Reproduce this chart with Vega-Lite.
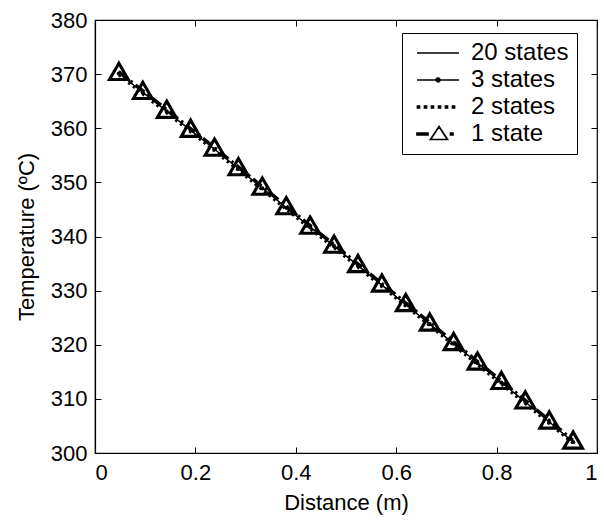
{
  "$schema": "https://vega.github.io/schema/vega-lite/v6.json",
  "width": 502,
  "height": 433,
  "autosize": {"type": "none"},
  "padding": {"left": 95, "top": 20, "right": 7, "bottom": 72},
  "background": "white",
  "config": {
    "view": {"stroke": "black", "strokeWidth": 1.2},
    "font": "Liberation Sans",
    "axis": {
      "grid": false,
      "domainColor": "black",
      "domainWidth": 1.2,
      "tickColor": "black",
      "tickSize": -6,
      "labelColor": "black",
      "labelFont": "Liberation Sans",
      "labelFontSize": 22,
      "titleFont": "Liberation Sans",
      "titleFontSize": 22,
      "titleFontWeight": "normal",
      "titleColor": "black"
    }
  },
  "datasets": {
    "curves": [
      {"series": "20 states", "x": 0.0476, "t": 370.2},
      {"series": "20 states", "x": 0.0952, "t": 366.7},
      {"series": "20 states", "x": 0.1429, "t": 363.2},
      {"series": "20 states", "x": 0.1905, "t": 359.7},
      {"series": "20 states", "x": 0.2381, "t": 356.2},
      {"series": "20 states", "x": 0.2857, "t": 352.6},
      {"series": "20 states", "x": 0.3333, "t": 349.0},
      {"series": "20 states", "x": 0.3810, "t": 345.4},
      {"series": "20 states", "x": 0.4286, "t": 341.8},
      {"series": "20 states", "x": 0.4762, "t": 338.3},
      {"series": "20 states", "x": 0.5238, "t": 334.7},
      {"series": "20 states", "x": 0.5714, "t": 331.1},
      {"series": "20 states", "x": 0.6190, "t": 327.5},
      {"series": "20 states", "x": 0.6667, "t": 323.9},
      {"series": "20 states", "x": 0.7143, "t": 320.3},
      {"series": "20 states", "x": 0.7619, "t": 316.7},
      {"series": "20 states", "x": 0.8095, "t": 313.1},
      {"series": "20 states", "x": 0.8571, "t": 309.5},
      {"series": "20 states", "x": 0.9048, "t": 305.8},
      {"series": "20 states", "x": 0.9524, "t": 302.1},
      {"series": "3 states", "x": 0.0476, "t": 370.1},
      {"series": "3 states", "x": 0.0952, "t": 366.6},
      {"series": "3 states", "x": 0.1429, "t": 363.1},
      {"series": "3 states", "x": 0.1905, "t": 359.6},
      {"series": "3 states", "x": 0.2381, "t": 356.1},
      {"series": "3 states", "x": 0.2857, "t": 352.5},
      {"series": "3 states", "x": 0.3333, "t": 348.9},
      {"series": "3 states", "x": 0.3810, "t": 345.3},
      {"series": "3 states", "x": 0.4286, "t": 341.7},
      {"series": "3 states", "x": 0.4762, "t": 338.2},
      {"series": "3 states", "x": 0.5238, "t": 334.6},
      {"series": "3 states", "x": 0.5714, "t": 331.0},
      {"series": "3 states", "x": 0.6190, "t": 327.4},
      {"series": "3 states", "x": 0.6667, "t": 323.8},
      {"series": "3 states", "x": 0.7143, "t": 320.2},
      {"series": "3 states", "x": 0.7619, "t": 316.6},
      {"series": "3 states", "x": 0.8095, "t": 313.0},
      {"series": "3 states", "x": 0.8571, "t": 309.4},
      {"series": "3 states", "x": 0.9048, "t": 305.7},
      {"series": "3 states", "x": 0.9524, "t": 302.0},
      {"series": "2 states", "x": 0.0476, "t": 369.8},
      {"series": "2 states", "x": 0.0952, "t": 366.3},
      {"series": "2 states", "x": 0.1429, "t": 362.8},
      {"series": "2 states", "x": 0.1905, "t": 359.3},
      {"series": "2 states", "x": 0.2381, "t": 355.8},
      {"series": "2 states", "x": 0.2857, "t": 352.2},
      {"series": "2 states", "x": 0.3333, "t": 348.6},
      {"series": "2 states", "x": 0.3810, "t": 345.0},
      {"series": "2 states", "x": 0.4286, "t": 341.4},
      {"series": "2 states", "x": 0.4762, "t": 337.9},
      {"series": "2 states", "x": 0.5238, "t": 334.3},
      {"series": "2 states", "x": 0.5714, "t": 330.7},
      {"series": "2 states", "x": 0.6190, "t": 327.1},
      {"series": "2 states", "x": 0.6667, "t": 323.5},
      {"series": "2 states", "x": 0.7143, "t": 319.9},
      {"series": "2 states", "x": 0.7619, "t": 316.3},
      {"series": "2 states", "x": 0.8095, "t": 312.7},
      {"series": "2 states", "x": 0.8571, "t": 309.1},
      {"series": "2 states", "x": 0.9048, "t": 305.4},
      {"series": "2 states", "x": 0.9524, "t": 301.8},
      {"series": "1 state", "x": 0.0476, "t": 370.5},
      {"series": "1 state", "x": 0.0952, "t": 367.0},
      {"series": "1 state", "x": 0.1429, "t": 363.5},
      {"series": "1 state", "x": 0.1905, "t": 360.0},
      {"series": "1 state", "x": 0.2381, "t": 356.5},
      {"series": "1 state", "x": 0.2857, "t": 352.9},
      {"series": "1 state", "x": 0.3333, "t": 349.3},
      {"series": "1 state", "x": 0.3810, "t": 345.7},
      {"series": "1 state", "x": 0.4286, "t": 342.1},
      {"series": "1 state", "x": 0.4762, "t": 338.6},
      {"series": "1 state", "x": 0.5238, "t": 335.0},
      {"series": "1 state", "x": 0.5714, "t": 331.4},
      {"series": "1 state", "x": 0.6190, "t": 327.8},
      {"series": "1 state", "x": 0.6667, "t": 324.2},
      {"series": "1 state", "x": 0.7143, "t": 320.6},
      {"series": "1 state", "x": 0.7619, "t": 317.0},
      {"series": "1 state", "x": 0.8095, "t": 313.4},
      {"series": "1 state", "x": 0.8571, "t": 309.8},
      {"series": "1 state", "x": 0.9048, "t": 306.1},
      {"series": "1 state", "x": 0.9524, "t": 302.4}
    ]
  },
  "data": {"name": "curves"},
  "resolve": {"axis": {"x": "independent", "y": "independent"}},
  "layer": [
    {
      "transform": [{"filter": "datum.series === '20 states'"}],
      "mark": {"type": "line", "color": "black", "strokeWidth": 1},
      "encoding": {
        "x": {"field": "x", "type": "quantitative", "scale": {"domain": [0, 1], "nice": false},
              "axis": {"title": "Distance (m)", "values": [0, 0.2, 0.4, 0.6, 0.8, 1], "format": "~g", "labelPadding": 15, "titlePadding": 9}},
        "y": {"field": "t", "type": "quantitative", "scale": {"domain": [300, 380], "nice": false, "zero": false},
              "axis": {"title": "Temperature (ºC)", "values": [300, 310, 320, 330, 340, 350, 360, 370, 380], "labelPadding": 14, "titlePadding": 12}}
      }
    },
    {
      "transform": [{"filter": "datum.series === '3 states'"}],
      "mark": {"type": "line", "color": "black", "strokeWidth": 1.2, "point": {"filled": true, "color": "black", "size": 18}},
      "encoding": {
        "x": {"field": "x", "type": "quantitative", "axis": {"orient": "top", "labels": false, "title": null, "values": [0, 0.2, 0.4, 0.6, 0.8, 1], "domain": false}},
        "y": {"field": "t", "type": "quantitative", "axis": {"orient": "right", "labels": false, "title": null, "values": [300, 310, 320, 330, 340, 350, 360, 370, 380], "domain": false}}
      }
    },
    {
      "transform": [{"filter": "datum.series === '2 states'"}],
      "mark": {"type": "line", "color": "black", "strokeWidth": 2.8, "strokeDash": [2.5, 3.5]},
      "encoding": {
        "x": {"field": "x", "type": "quantitative", "axis": null},
        "y": {"field": "t", "type": "quantitative", "axis": null}
      }
    },
    {
      "transform": [{"filter": "datum.series === '1 state'"}],
      "mark": {"type": "line", "color": "black", "strokeWidth": 2.8, "strokeDash": [11, 4, 2.5, 4]},
      "encoding": {
        "x": {"field": "x", "type": "quantitative", "axis": null},
        "y": {"field": "t", "type": "quantitative", "axis": null}
      }
    },
    {
      "transform": [{"filter": "datum.series === '1 state'"}],
      "mark": {"type": "point", "shape": "triangle-up", "filled": false, "stroke": "black", "strokeWidth": 3.1, "size": 350, "opacity": 1},
      "encoding": {
        "x": {"field": "x", "type": "quantitative", "axis": null},
        "y": {"field": "t", "type": "quantitative", "axis": null}
      }
    },
    {
      "mark": {"type": "point", "opacity": 0, "filled": false, "stroke": "black"},
      "encoding": {
        "x": {"field": "x", "type": "quantitative", "axis": null},
        "y": {"field": "t", "type": "quantitative", "axis": null},
        "shape": {
          "field": "series",
          "type": "nominal",
          "scale": {
            "domain": ["20 states", "3 states", "2 states", "1 state"],
            "range": [
              "M-0.5,0H3.7",
              "M-0.5,0H3.7M1.78,0A0.18,0.18 0 1,1 1.42,0A0.18,0.18 0 1,1 1.78,0ZM1.68,0A0.08,0.08 0 1,1 1.52,0A0.08,0.08 0 1,1 1.68,0Z",
              "M-0.45,-0.08h0.2v0.16h-0.2ZM0.25,-0.08h0.2v0.16h-0.2ZM0.95,-0.08h0.2v0.16h-0.2ZM1.65,-0.08h0.2v0.16h-0.2ZM2.35,-0.08h0.2v0.16h-0.2ZM3.05,-0.08h0.2v0.16h-0.2Z",
              "M-0.5,-0.08h1.1v0.16h-1.1ZM0.85,0.55L1.7,-0.75L2.55,0.55ZM2.85,-0.08h0.25v0.16h-0.25Z"
            ]
          },
          "legend": {
            "title": null,
            "orient": "none",
            "legendX": 307,
            "legendY": 13,
            "strokeColor": "black",
            "fillColor": "white",
            "padding": 8,
            "rowPadding": 3,
            "symbolSize": 400,
            "symbolOpacity": 1,
            "symbolStrokeColor": "black",
            "symbolFillColor": "white",
            "symbolStrokeWidth": 1.7,
            "labelOffset": 37,
            "labelFont": "Liberation Sans",
            "labelFontSize": 24,
            "labelColor": "black",
            "labelLimit": 300,
            "labelExpr": "datum.label + '\u00a0\u00a0\u00a0\u00a0\u00a0\u00a0'"
          }
        }
      }
    }
  ]
}
